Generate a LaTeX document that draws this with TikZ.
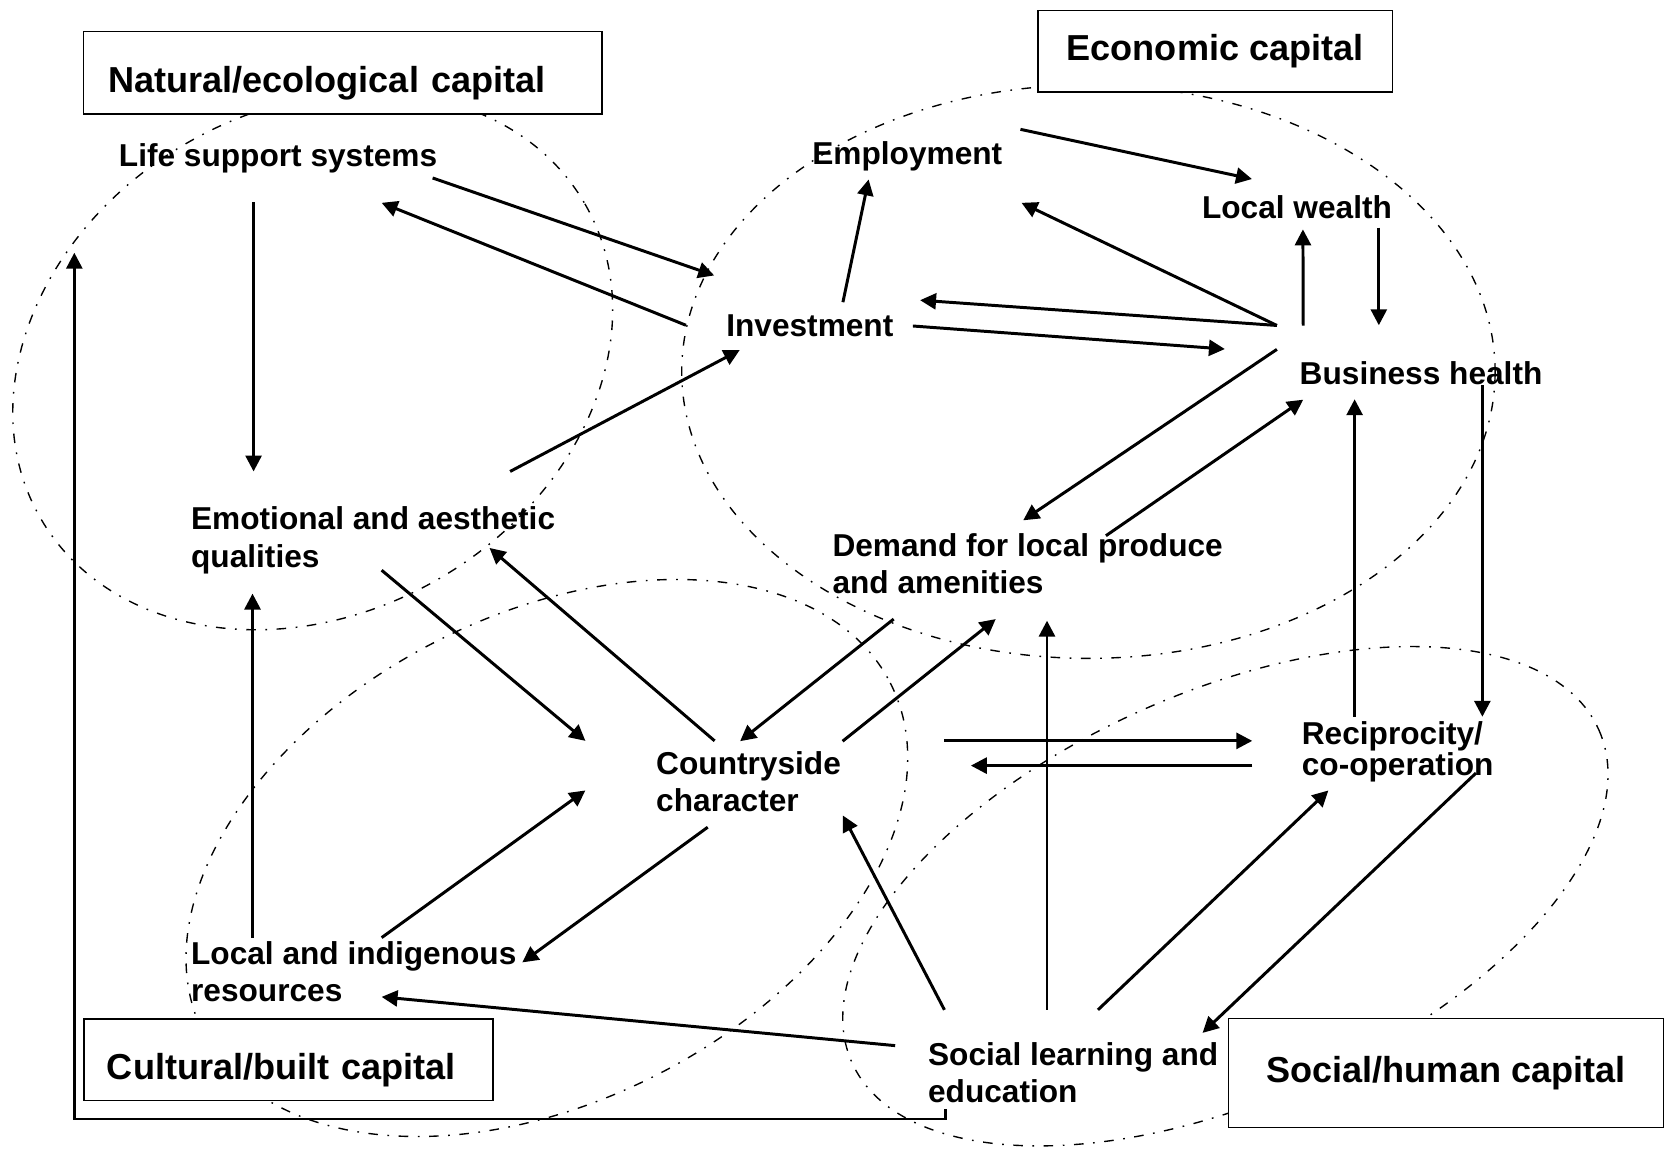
\documentclass[tikz,border=0pt]{standalone}
\usepackage{fontspec}
\setmainfont{Liberation Sans}
\usetikzlibrary{arrows.meta}
\tikzset{
      factor/.style={font=\fontsize{14.9}{17.5}\selectfont\bfseries,inner sep=0pt,outer sep=0pt,anchor=base west,align=left},
      capbox/.style={draw,line width=0.75pt,fill=white,anchor=north west,inner sep=0pt,
        font=\fontsize{17}{20}\selectfont\bfseries,text height=12.4pt,text depth=3.6pt},
      link/.style={line width=1.4pt,-{Triangle[length=7.5pt,width=7.5pt]}},
      capital/.style={line width=0.65pt,dash pattern=on 4.5pt off 4.5pt on 0.8pt off 4.5pt}
    }
\begin{document}
\begin{tikzpicture}[x=0.5pt,y=-0.5pt]
\useasboundingbox (0,0) rectangle (1568,1082);
% the four capitals
\draw[capital,rotate around={30:(294.5,340)}] (294.5,340) ellipse [x radius=296,y radius=237];
\draw[capital] (1025,350) ellipse [x radius=383,y radius=270];
\draw[capital,rotate around={27:(515,808)}] (515,808) ellipse [x radius=363,y radius=229];
\draw[capital,rotate around={24:(1154,844)}] (1154,844) ellipse [x radius=385,y radius=192];

\node[capbox,text width=221pt,align=left,inner xsep=11.5pt,minimum height=38.8pt,text height=18.9pt,text depth=0pt] (natural) at (78,28.8) {Natural/ecological capital};
\node[capbox,minimum width=167.1pt,minimum height=38.35pt] (economic) at (976.5,9) {Economic capital};
\node[capbox,text width=170.9pt,align=left,inner xsep=10.8pt,minimum height=38.6pt,text height=18.8pt,text depth=0pt] (cultural) at (78.4,958.6) {Cultural/built capital};
\node[capbox,minimum width=205pt,minimum height=51.25pt] (social) at (1156,958.5) {Social/human capital};

% two-line factors sit on their last line
\node[factor] (life) at (112,157) {Life support systems};
\node[factor] (emp) at (765,155) {Employment};
\node[factor] (lw) at (1132,206) {Local wealth};
\node[factor] (inv) at (684,317) {Investment};
\node[factor] (bh) at (1224,362) {Business health};
\node[factor] (emo) at (180,534) {Emotional and aesthetic\\qualities};
\node[factor] (dem) at (784,559) {Demand for local produce\\and amenities};
\node[factor] (cc) at (618,764) {Countryside\\character};
\node[factor] (rec) at (1226,730) {Reciprocity/\\[-3pt]co-operation};
\node[factor] (loc) at (180,943) {Local and indigenous\\resources};
\node[factor] (soc) at (874,1038) {Social learning and\\education};

% links: from node / shift / to node / shift
\foreach \a/\ax/\ay/\b/\bx/\by in {
  life/295.4/10.6/inv/-11.4/-57.6,
  inv/-38/-10.7/life/247.4/34,
  life/126.8/33.3/emo/58.8/-90,
  emo/300.4/-90/inv/12.6/12.7,
  inv/109.8/-32.4/emp/53/14,
  emp/196/-33.2/lw/47/-37.4,
  bh/-21.5/-55.5/emp/197/36,
  bh/-21.5/-55.5/inv/182.5/-34.3,
  inv/175.7/-10/bh/-70.5/-33.3,
  bh/3.3/-55.3/lw/95/10,
  lw/166.5/8.4/bh/74.5/-55.7,
  bh/-21.5/-33/dem/179.6/-69,
  dem/257.5/-54.5/bh/3.3/14.4,
  rec/49.7/-55/bh/51.7/14,
  bh/172/0.6/rec/170/-55,
  emo/179.4/3/cc/-66.7/-66.3,
  cc/55/-66.3/emo/281/-18,
  dem/57.6/24/cc/79/-66,
  cc/175.5/-66/dem/153.7/24,
  cc/271.4/-66.3/rec/-46.7/-32.3,
  rec/-46.7/-9/cc/296.3/-43,
  loc/57.8/-60/emo/57.8/25,
  loc/179.4/-60/cc/-66.7/-19.6,
  cc/48.5/15/loc/311.9/-36.7,
  soc/-31/-53.3/loc/179.4/-4.2,
  soc/15.4/-87/cc/175.8/4,
  soc/112/-87/dem/202/25.5,
  soc/160/-87/rec/25/14.4,
  rec/164/-2/soc/258.5/-65.3
}
\draw[link] ([shift={(\ax,\ay)}]\a.base west) -- ([shift={(\bx,\by)}]\b.base west);

\coordinate (loopend) at (70,238);
\draw[link] ([shift={(16.8,6.8)}]soc.base west) -- ++(0,9) -| (loopend);
\end{tikzpicture}
\end{document}
